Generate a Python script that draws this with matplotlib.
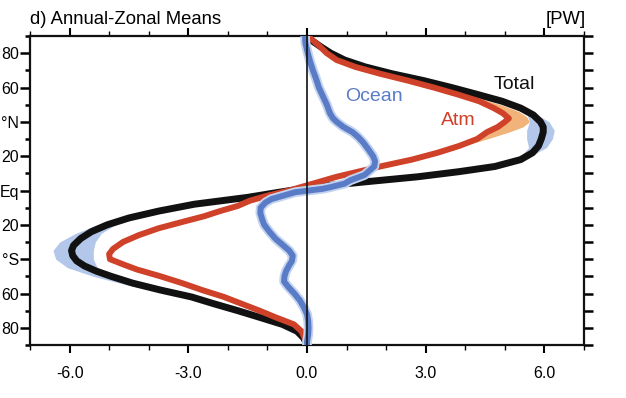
import matplotlib
matplotlib.use("Agg")
import matplotlib.pyplot as plt
from matplotlib.ticker import MultipleLocator, FixedLocator

# ---------------- data ----------------
total_lat = [90, 88, 84, 80, 76, 72, 68, 64, 60, 56, 52, 48, 44, 40, 37, 34, 30, 26, 22, 18,
             14, 11, 8, 5, 2, -1, -4, -8, -12, -16, -20, -24, -28, -32, -35, -38, -41, -44,
             -47, -50, -54, -58, -62, -66, -70, -74, -78, -82, -86, -90]
total_val = [0.0, 0.08, 0.33, 0.6, 0.95, 1.47, 2.15, 2.95, 3.65, 4.3, 4.93, 5.4, 5.72, 5.9,
             5.97, 5.97, 5.92, 5.85, 5.7, 5.4, 4.75, 3.85, 2.8, 1.45, 0.15, -0.7, -1.5, -2.85,
             -3.75, -4.5, -5.05, -5.45, -5.72, -5.9, -5.95, -5.92, -5.82, -5.62, -5.32, -4.95,
             -4.4, -3.7, -2.92, -2.35, -1.75, -1.18, -0.62, -0.25, -0.08, 0.0]

atm_lat = [90, 88, 84, 80, 76, 72, 68, 64, 60, 56, 52, 48, 45, 42, 40, 37, 34, 30, 26, 22, 18,
           14, 11, 8, 5, 3, 0, -3, -6, -9, -12, -15, -18, -22, -26, -30, -34, -37, -40, -43,
           -46, -50, -54, -58, -62, -66, -70, -74, -78, -82, -86, -90]
atm_val = [0.0, 0.12, 0.32, 0.5, 0.75, 1.22, 1.85, 2.55, 3.2, 3.8, 4.35, 4.72, 4.95, 5.1, 5.0,
           4.82, 4.55, 4.3, 3.85, 3.3, 2.65, 1.85, 1.3, 0.75, 0.3, 0.0, -0.45, -1.0, -1.45,
           -1.75, -2.2, -2.6, -3.1, -3.75, -4.25, -4.65, -4.9, -5.0, -4.98, -4.65, -4.3,
           -3.7, -3.15, -2.65, -2.1, -1.65, -1.2, -0.78, -0.33, -0.14, -0.06, 0.0]

ocean_lat = [90, 86, 80, 75, 70, 65, 60, 55, 50, 45, 42, 40, 37, 34, 31, 28, 24, 20, 17, 14,
             12, 9, 6, 4, 2, 1, 0, -1, -3, -5, -7, -10, -13, -17, -20, -24, -28, -32, -35,
             -38, -41, -44, -47, -50, -53, -56, -60, -64, -68, -72, -76, -80, -84, -88, -90]
ocean_val = [-0.05, -0.04, 0.02, 0.08, 0.15, 0.23, 0.3, 0.4, 0.5, 0.58, 0.66, 0.75, 0.92,
             1.15, 1.3, 1.42, 1.55, 1.67, 1.72, 1.7, 1.6, 1.45, 1.1, 0.95, 0.6, 0.4, 0.05,
             -0.3, -0.6, -0.9, -1.05, -1.17, -1.18, -1.13, -1.08, -0.95, -0.8, -0.6, -0.45,
             -0.36, -0.38, -0.46, -0.53, -0.57, -0.58, -0.48, -0.32, -0.18, -0.08, 0.0, 0.03,
             0.04, 0.03, 0.0, 0.0]

# uncertainty range of the total transport
band_n_lat = [50, 45, 40, 35, 30, 25, 20, 15, 10]
band_n_lo = [5.08, 5.55, 5.62, 5.55, 5.55, 5.6, 5.4, 4.85, 3.45]
band_n_hi = [5.12, 5.75, 6.12, 6.25, 6.2, 6.05, 5.65, 5.0, 3.55]
band_s_lat = [-10, -15, -20, -25, -30, -35, -40, -45, -50, -55, -60]
band_s_lo = [-3.45, -4.5, -5.3, -5.85, -6.25, -6.42, -6.35, -6.05, -5.4, -4.55, -3.45]
band_s_hi = [-3.35, -4.25, -4.85, -5.2, -5.35, -5.4, -5.4, -5.3, -4.85, -4.2, -3.35]

# range of the atmospheric transport (orange)
orange_lat = [58, 54, 50, 46, 43, 40, 37, 34, 30, 26]
orange_lo = [3.5, 4.05, 4.5, 4.85, 5.0, 4.95, 4.75, 4.5, 4.2, 3.85]
orange_hi = [3.6, 4.3, 4.9, 5.35, 5.55, 5.62, 5.45, 5.1, 4.55, 3.95]

x_ticks = [-6.0, -3.0, 0.0, 3.0, 6.0]
x_ticklabels = ["-6.0", "-3.0", "0.0", "3.0", "6.0"]
y_ticks = [80, 60, 40, 20, 0, -20, -40, -60, -80]
y_ticklabels = ["80", "60", "°N", "20", "Eq", "20", "°S", "60", "80"]

# ---------------- style ----------------
plt.rcParams['font.family'] = ['Liberation Sans', 'DejaVu Sans']
BLUE = "#5a7cc6"
LIGHTBLUE = "#b3c7ea"
RED = "#cf4128"
ORANGE = "#f1b379"
BLACK = "#111111"

W, H = 626, 398
fig = plt.figure(figsize=(W / 100, H / 100), dpi=100)
ax = fig.add_axes([30 / W, 1 - 345 / H, (584 - 30) / W, (345 - 36) / H])

ax.fill_betweenx(band_n_lat, band_n_lo, band_n_hi, color=LIGHTBLUE, lw=0, zorder=1)
ax.fill_betweenx(band_s_lat, band_s_lo, band_s_hi, color=LIGHTBLUE, lw=0, zorder=1)
ax.fill_betweenx(orange_lat, orange_lo, orange_hi, color=ORANGE, lw=0, zorder=1.5)

ax.plot(total_val, total_lat, color=BLACK, lw=5.0, solid_capstyle='butt', zorder=2)
ax.plot(atm_val, atm_lat, color=RED, lw=4.3, solid_capstyle='butt', zorder=3)
ax.plot(ocean_val, ocean_lat, color="#c3d3ef", lw=7.0, solid_capstyle='butt', zorder=3.5)
ax.plot(ocean_val, ocean_lat, color=BLUE, lw=4.3, solid_capstyle='butt', zorder=4)
ax.axvline(0, color=BLACK, lw=1.2, zorder=5)

ax.set_xlim(-7, 7)
ax.set_ylim(-90, 90)

for s in ax.spines.values():
    s.set_linewidth(1.6)
    s.set_color(BLACK)

ax.xaxis.set_major_locator(FixedLocator(x_ticks))
ax.set_xticklabels(x_ticklabels)
ax.xaxis.set_minor_locator(MultipleLocator(1.0))
ax.yaxis.set_major_locator(FixedLocator(y_ticks))
ax.set_yticklabels(y_ticklabels)
ax.yaxis.set_minor_locator(MultipleLocator(10))

ax.tick_params(axis='x', which='major', direction='out', length=6, width=1.5,
               top=True, bottom=True, labeltop=False, labelsize=11.5, pad=9)
ax.tick_params(axis='x', which='minor', direction='out', length=3.5, width=1.0,
               top=True, bottom=True)
ax.tick_params(axis='y', which='major', direction='out', length=7, width=1.8,
               left=True, right=True, labelright=False, labelsize=11.5, pad=1)
ax.tick_params(axis='y', which='minor', direction='out', length=3.5, width=1.8,
               left=True, right=True)
# right side ticks all the same length
for t in ax.yaxis.get_major_ticks():
    t.tick2line.set_markersize(6.5)
for t in ax.yaxis.get_minor_ticks():
    t.tick2line.set_markersize(6.5)

fig.text(30 / W, 1 - 24 / H, "d) Annual-Zonal Means", fontsize=13.3, ha='left', va='baseline')
fig.text(586 / W, 1 - 24 / H, "[PW]", fontsize=13.3, ha='right', va='baseline')

ax.text(5.25, 62, "Total", fontsize=14, color=BLACK, ha='center', va='center', zorder=6)
ax.text(1.68, 55, "Ocean", fontsize=14, color=BLUE, ha='center', va='center', zorder=6)
ax.text(3.83, 40.5, "Atm", fontsize=14, color=RED, ha='center', va='center', zorder=6)

fig.savefig("out.png", dpi=100)
